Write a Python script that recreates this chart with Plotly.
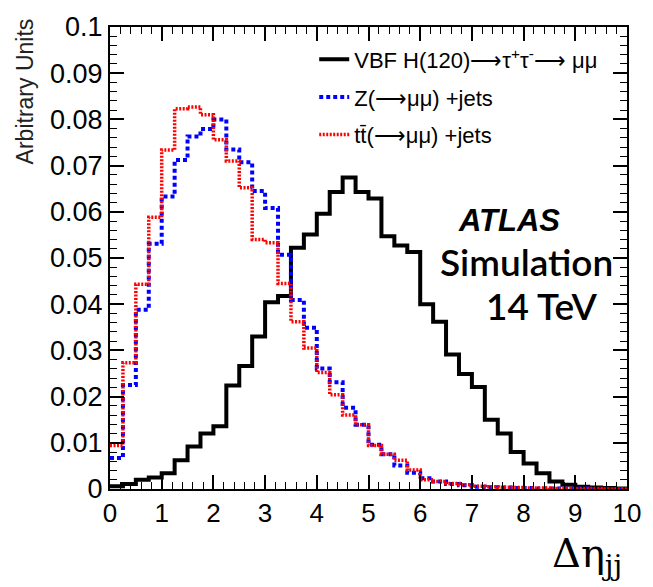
import plotly.graph_objects as go

bin_edges = [i * 0.25 for i in range(41)]

vbf = [0.0006, 0.0011, 0.0020, 0.0025, 0.0034, 0.0062, 0.0092, 0.0120, 0.0136, 0.0224,
       0.0266, 0.0330, 0.0404, 0.0418, 0.0522, 0.0551, 0.0596, 0.0643, 0.0674, 0.0643,
       0.0629, 0.0547, 0.0527, 0.0513, 0.0400, 0.0362, 0.0291, 0.0249, 0.0221, 0.0150,
       0.0120, 0.0080, 0.0055, 0.0034, 0.0016, 0.0009, 0.0005, 0.0003, 0.0002, 0.0001]

zjets = [0.0067, 0.0225, 0.0388, 0.0531, 0.0633, 0.0712, 0.0763, 0.0779, 0.0800, 0.0735,
         0.0707, 0.0645, 0.0608, 0.0507, 0.0409, 0.0349, 0.0261, 0.0231, 0.0176, 0.0139,
         0.0096, 0.0075, 0.0051, 0.0035, 0.0023, 0.0016, 0.0011, 0.0008, 0.0005, 0.0004,
         0.0003, 0.0002, 0.0002, 0.0001, 0.0001, 0.0001, 0.0001, 0.0000, 0.0000, 0.0000]

ttbar = [0.0094, 0.0273, 0.0443, 0.0588, 0.0734, 0.0823, 0.0827, 0.0810, 0.0756, 0.0710,
         0.0652, 0.0540, 0.0533, 0.0445, 0.0362, 0.0305, 0.0252, 0.0204, 0.0160, 0.0139,
         0.0094, 0.0075, 0.0062, 0.0041, 0.0020, 0.0016, 0.0012, 0.0009, 0.0006, 0.0005,
         0.0004, 0.0003, 0.0002, 0.0002, 0.0001, 0.0001, 0.0001, 0.0001, 0.0000, 0.0000]

names = ["VBF H(120)⟶τ<sup>+</sup>τ<sup>-</sup>⟶ μμ", "Z(⟶μμ) +jets", "tt̄(⟶μμ) +jets"]

def step(vals):
    return bin_edges[:-1] + [bin_edges[-1]], list(vals) + [vals[-1]]

fig = go.Figure()
styles = [
    dict(color="black", width=4, dash="solid"),
    dict(color="#0000ff", width=4, dash="4px,3px"),
    dict(color="#ff0000", width=3.5, dash="2px,1.5px"),
]
for i, (vals, nm, st) in enumerate(zip([vbf, zjets, ttbar], names, styles)):
    x, y = step(vals)
    fig.add_trace(go.Scatter(x=x, y=y, mode="lines", line=st, line_shape="hv",
                             name=nm, legendgroup=f"g{i}"))

xfont = dict(family="Liberation Sans, Arial, sans-serif", size=26, color="black")
yfont = dict(family="Liberation Sans, Arial, sans-serif", size=27, color="black")

fig.update_xaxes(range=[0, 10], dtick=1, tick0=0, showline=True, linecolor="black",
                 linewidth=2, mirror="ticks", ticks="inside", ticklen=14, tickwidth=1.5,
                 tickcolor="black", showgrid=False, zeroline=False, tickfont=xfont,
                 minor=dict(ticks="inside", dtick=0.2, ticklen=7, tickcolor="black", tickwidth=1.2))
fig.update_yaxes(range=[0, 0.1], dtick=0.01, tick0=0, showline=True, linecolor="black",
                 linewidth=2, mirror="ticks", ticks="inside", ticklen=14, tickwidth=1.5,
                 tickcolor="black", showgrid=False, zeroline=False, tickfont=yfont,
                 minor=dict(ticks="inside", dtick=0.002, ticklen=7, tickcolor="black", tickwidth=1.2))

fig.add_annotation(text="<i><b>ATLAS</b></i>", x=7.72, y=0.0582, xref="x", yref="y",
                   showarrow=False, font=dict(family="Liberation Sans, Arial", size=31, color="black"))
fig.add_annotation(text="Simulation", x=8.05, y=0.0492, xref="x", yref="y",
                   showarrow=False, font=dict(family="Lato", size=37, color="black", weight=600))
fig.add_annotation(text="14 TeV", x=8.35, y=0.0398, xref="x", yref="y",
                   showarrow=False, font=dict(family="Lato", size=37, color="black", weight=600))

fig.add_annotation(text="Δη<sub>jj</sub>", x=0.995, y=-0.145, xref="paper", yref="paper",
                   xanchor="right", yanchor="middle", showarrow=False,
                   font=dict(family="DejaVu Serif, Liberation Serif", size=40, color="black"))
fig.add_annotation(text="Arbitrary Units", x=-0.165, y=0.86, xref="paper", yref="paper",
                   textangle=-90, xanchor="center", yanchor="middle", showarrow=False,
                   font=dict(family="Liberation Sans, Arial", size=23, color="#222"))

fig.update_layout(
    width=653, height=587,
    margin=dict(l=110, r=19, t=17, b=98),
    paper_bgcolor="white", plot_bgcolor="white",
    showlegend=True,
    legend=dict(x=0.395, y=0.975, xanchor="left", yanchor="top", bgcolor="rgba(0,0,0,0)",
                font=dict(family="Liberation Sans, Arial", size=22, color="black"),
                traceorder="grouped", tracegroupgap=6, itemwidth=30),
)

fig.write_html("out.html")
